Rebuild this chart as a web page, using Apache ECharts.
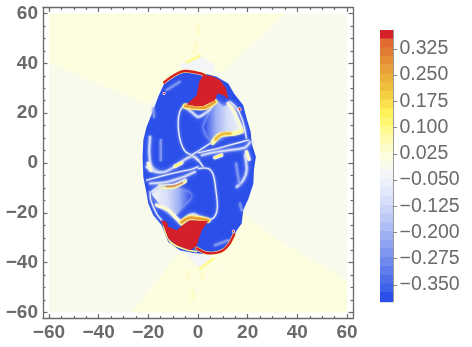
<!DOCTYPE html>
<html><head><meta charset="utf-8">
<style>html,body{margin:0;padding:0;background:#fff}#c{width:472px;height:347px}</style>
<script src="https://cdn.jsdelivr.net/npm/echarts@6/dist/echarts.min.js"></script>
</head><body><div id="c"></div>
<script>
// ---- tick labels ----
const majorTicks=[-60,-40,-20,0,20,40,60];
const minorTicks=[-60,-55,-50,-45,-35,-30,-25,-15,-10,-5,5,10,15,25,30,35,45,50,55];
const barTicks=[-0.35,-0.275,-0.2,-0.125,-0.05,0.025,0.1,0.175,0.25,0.325];
// ---- colour bar ----
const bandEdges=[-0.398,-0.369,-0.344,-0.319,-0.294,-0.269,-0.244,-0.219,-0.194,-0.169,-0.144,-0.119,-0.094,-0.069,-0.044,-0.019,0.006,0.031,0.056,0.081,0.106,0.131,0.156,0.181,0.206,0.231,0.256,0.281,0.306,0.331,0.356,0.379];
const bandColors=['#2c4fea','#3f62ea','#4f6fea','#5f7cec','#6f8aee','#7e96ef','#8ea3f1','#9eb0f3','#aebdf5','#bcc9f7','#cad4f8','#d6def9','#e2e8fb','#ecf0fb','#f3f5f6','#f8faec','#fdfde0','#fdfcc8','#fefbae','#fffa90','#fff770','#fff25a','#f9e04c','#f4cf42','#efbe3c','#ecaf3c','#e9a03a','#e68e36','#e37c33','#e06a30','#d42028'];
// ---- regions (x, y in data units) ----
const bgRect=[[-60,60],[60,60],[60,-60],[-60,-60]];
const bgTop=[[-60,60],[35,60],[10,36.6],[-5,37],[-14,31],[-20,23.5],[-38,31],[-60,40]];
const bgBottom=[[-26.7,-60],[60,-60],[60,-47],[32.2,-31],[18,-20],[10,-32],[-7.9,-36.3]];
const ghostTop=[[-7.5,39.6],[0.8,43.3],[6.9,39.3],[6.2,36.6],[-5.9,36.9]];
const ghostBottom=[[-5.9,-35.7],[6.2,-36.4],[4.9,-38.4],[0.8,-42.4],[-3.2,-38.4]];
const ghostStreakTop=[[-4.5,40.4],[0.8,43]];
const ghostStreakBottom=[[0.8,-42.4],[6.2,-38.4]];
const ghostSpots=[[[-1.5,44],[-0.8,48]],[[-0.1,55.5],[0,52]],[[-4.1,-43.5],[-4.1,-46.5]],[[1.8,-43.5],[1.8,-46.5]],[[-2.1,-51.5],[-2.1,-55]]];
const ghostRings=[
 [[2.8,50],[8.9,48.7],[10.9,45.3],[9.6,41.3],[6.2,40]],
 [[-7.9,55.4],[-5.9,58.7],[-0.5,59.1],[6.2,58],[4.2,53.4],[2.2,50.7]],
 [[-8.3,52],[-4.5,50],[-8.6,43.3]],
 [[-10.6,-44.4],[-7.2,-39.7],[-3.2,-43],[-1.9,-46.4],[-5.9,-49.1],[-9.9,-47.7],[-10.6,-44.4]],
 [[4.9,-41.7],[9.6,-41],[9.6,-45.7],[4.9,-48]],
 [[-3.2,-51.1],[4.2,-51.1],[7.5,-54.4],[4.2,-58.4],[-4.5,-57.8]]];
const blob=[[-5.9,37.3],[1.5,36.2],[7.5,34.6],[12.2,31.9],[14.5,27.9],[18.2,23.2],[19.6,17.9],[21.2,12.5],[21.6,7.8],[23.3,2.5],[22.5,-2.9],[22.3,-8.2],[20.3,-14.3],[18.2,-18.9],[17.6,-24.3],[15.6,-27],[12.9,-33],[8.8,-36],[3.5,-36.6],[-1.9,-36.1],[-7.3,-35],[-12,-31.7],[-14.6,-25],[-18,-21],[-20,-16.3],[-20.7,-12.2],[-22,-5.6],[-22.3,2.5],[-22,9.2],[-20.7,14.5],[-18,21.2],[-16,26.6],[-13.3,32.6],[-10,35.3]];
const redTop=[[2.1,35.3],[5.5,34.9],[8.9,33.3],[11.3,29.9],[12.2,25.5],[10.2,27.2],[7.8,27.9],[6.8,25.2],[2.1,22.9],[-1.2,22.9],[-4.6,23.5],[-0.5,27.2],[0.5,32.6]];
const redBottom=[[-15,-23],[-12.6,-23.6],[-12,-25.6],[-8.6,-27],[-6.2,-25],[-3.2,-23],[4.1,-23.4],[1.5,-27],[-0.6,-33.3],[-3.2,-35],[-8.6,-33],[-12,-30.3],[-13.7,-25.6]];
const arcTop=[[-13.6,32.4],[-9.3,35.4],[-5.3,36.9],[0.8,36],[2.8,35.2]];
const arcBottom=[[-0.6,-34.2],[3.5,-36.1],[8.8,-35.7],[12.2,-33],[14.6,-28.6]];
const arcBottomLeft=[[-14,-24],[-12.9,-28.3],[-10.9,-31.9],[-5.9,-34.4],[-0.6,-35.6]];
const lobeTop=[[7.8,24.6],[10.2,22.6],[13.5,23.9],[16.2,17.2],[18.2,12.8],[12.9,12.5],[6.2,8.5],[2.5,13.9],[4,18.5]];
const lobeBottom=[[-18.7,-11.6],[-15.3,-9.6],[-9.3,-9.6],[-2.9,-12.9],[-6.3,-17.6],[-9.3,-20.9],[-13.3,-18.3],[-16.7,-14.9]];
const softRidges=[
 [[-5.2,22.5],[-2.6,20.5],[0.1,18.5],[2.8,19.9],[6.2,22.5]],
 [[4.1,-22.7],[0.8,-21.6],[-1.9,-20.5],[-4.6,-21.6],[-6.6,-24.3]],
 [[-19.3,10.5],[-19.6,3.8],[-18.7,-1.5],[-16,-3.5]],
 [[-20.7,-1.5],[-17.3,-3.5],[-13.3,-3.5],[-9.3,-1.5],[-4.6,1.8],[-1.9,2.7],[0.1,1.1]],
 [[1.5,3.1],[5.5,4.1],[12.9,5.2],[18.9,6.2],[21,8.5]],
 [[18.9,3.2],[19.6,-2.9],[18.2,-6.9],[15.6,-9.6]],
 [[-19.3,-8.2],[-12.6,-7.6],[-5.9,-5.6],[-1.2,-3.5]]];
const thinRidges=[
 [[-3.2,23],[-6.2,22.4],[-7.7,19.2],[-7.9,13.8],[-7,8.5],[-5.2,4.7],[-2.6,3.1],[0.1,1.1],[2,-1.5]],
 [[-2.6,3.1],[0.8,5.2],[4.8,7.8]],
 [[0.1,-2.2],[4.1,-2.2],[6.2,-4.9],[7.2,-10.9],[7.8,-17.6],[6.8,-21.4],[4.1,-23.2]],
 [[0.1,4.1],[6.2,5.4],[12.9,7.2],[20.3,9.2]],
 [[-20.7,-6.9],[-13.3,-4.9],[-7.3,-3.5],[-2.6,-2.5],[0.1,-1.5]],
 [[12.9,24.6],[15.6,22],[17.9,17.2],[19.5,10]],
 [[-19.3,-11.6],[-19,-14.9],[-16.7,-20.3],[-14.6,-23]],
 [[-18.7,-11.6],[-15.3,-9.2],[-9.3,-8.4],[-5.3,-6.6]]];
const paleStreaks=[
 [[-15,9.2],[-15,1.1]],[[15.3,-0.2],[16.6,-8.2]],[[16.9,-16.3],[17.6,-19]],
 [[-12.6,29.3],[-7.3,32.6]],[[6.8,-33],[12.2,-31]],[[-18,21.9],[-17.7,18.5]]];
const creamLines=[
 [[12.2,23.9],[14.2,21.2],[16.9,15.2],[18.2,12.9]],
 [[-16.7,-16.9],[-12,-18.9],[-8.6,-22.3],[-6.6,-24.3]],
 [[-20,-0.2],[-19,-2.9]],[[19.5,4.5],[20.5,1.5]]];
const yellowUnderRedTop=[[-5.2,22.9],[-1.2,22.3],[2.8,22.3],[6.8,24.6]];
const yellowOverRedBottom=[[-6.6,-23.8],[-3.2,-22],[4.1,-23]];
const goldTop=[[5.9,8.2],[8.8,11.2],[14.2,11.8],[17.6,12.8]];
const goldTopCore=[[7,9.5],[9.5,11.5],[13,11.8]];
const goldBottom=[[-15.3,-9.3],[-9.9,-9.3],[-5.3,-7.2]];
const goldBottomCore=[[-12.6,-9.2],[-9.9,-9.1],[-6.6,-7.8]];
const yellowSpots=[[[6.8,2.2],[9.5,3.2]],[[-9.3,-1.3],[-6.6,0]]];
const redDots=[[[-13.7,27.9],[-13.6,28]],[[14.2,-27.4],[14.3,-27.3]],[[16.6,21.9],[17,21.4]]];

// ---- colour scale ----
function colorOf(v){
  for(let i=0;i<bandColors.length;i++){ if(v<bandEdges[i+1]) return bandColors[i]; }
  return bandColors[bandColors.length-1];
}
// ---- draw list, built from the arrays above ----
const shapes=[];
const area=(pts,v,extra)=>shapes.push(Object.assign({kind:'area',pts,v},extra||{}));
const line=(pts,v,w,extra)=>shapes.push(Object.assign({kind:'line',pts,v,w},extra||{}));
area(bgRect,0.0); area(bgTop,0.01); area(bgBottom,0.01);
area(ghostTop,-0.03); area(ghostBottom,-0.03);
ghostRings.forEach(r=>line(r,-0.005,1,{op:0.7}));
ghostSpots.forEach(s=>line(s,0.035,3.5,{op:.7,blur:2}));
line(ghostStreakTop,0.09,2.2,{blur:1}); line(ghostStreakBottom,0.09,2.2,{blur:1});
area(blob,-0.38);
softRidges.forEach(r=>{line(r,-0.22,4,{op:.5,blur:4});line(r,-0.08,1.6,{op:.85,blur:2});});
paleStreaks.forEach(r=>{line(r,-0.24,2.5,{op:.7,blur:3});});
area(lobeTop,-0.03,{grad:[1,0,0,0],blur:5});
area(lobeBottom,-0.03,{grad:[0,0,1,0],blur:5});
creamLines.forEach(r=>{line(r,-0.03,3.5,{blur:3});line(r,0.045,1.8,{blur:1});});
line(goldTop,0.07,4.5,{blur:2}); line(goldTopCore,0.21,2.5,{blur:1});
line(goldBottom,0.08,4.5,{blur:2}); line(goldBottomCore,0.3,2.5,{blur:1});
yellowSpots.forEach(r=>{line(r,-0.03,3.5,{blur:2});line(r,0.13,2);});
thinRidges.forEach(r=>{line(r,-0.2,2.5,{op:.5,blur:3});line(r,-0.03,1.1);});
line(yellowUnderRedTop,0.1,5,{blur:2}); line(yellowUnderRedTop,0.27,2.5,{blur:1});
line(yellowOverRedBottom,0.1,5,{blur:2}); line(yellowOverRedBottom,0.27,2.5,{blur:1});
line(arcTop,0.1,3.4); line(arcBottom,0.1,3.4); line(arcBottomLeft,0.1,1.8);
area(redTop,0.37); area(redBottom,0.37);
line(arcTop,0.37,2.4); line(arcBottom,0.37,2.4);
redDots.forEach(d=>{line(d,-0.03,3);line(d,0.37,1.6);});

function renderShape(params,api){
  const s=shapes[params.dataIndex];
  const points=s.pts.map(p=>api.coord(p));
  if(s.kind==='area'){
    let fill=colorOf(s.v);
    if(s.grad){
      fill={type:'linear',x:s.grad[0],y:s.grad[1],x2:s.grad[2],y2:s.grad[3],colorStops:[
        {offset:0,color:colorOf(-0.03)},{offset:.4,color:colorOf(-0.1)},{offset:.7,color:colorOf(-0.2)},{offset:1,color:colorOf(-0.38)}]};
    }
    return {type:'polygon',shape:{points,smooth:s.grad?0.3:0},style:{fill,stroke:null,shadowBlur:s.blur||0,shadowColor:s.blur?'#dfe6fb':'transparent'}};
  }
  return {type:'polyline',shape:{points,smooth:0.3},style:{fill:null,stroke:colorOf(s.v),lineWidth:s.w,opacity:s.op||1,lineCap:'round',lineJoin:'round',shadowBlur:s.blur||0,shadowColor:colorOf(s.v)}};
}
function renderBand(params,api){
  const i=params.dataIndex;
  const a=api.coord([0,bandEdges[i]]), b=api.coord([1,bandEdges[i+1]]);
  return {type:'rect',shape:{x:a[0],y:b[1],width:b[0]-a[0],height:a[1]-b[1]+0.5},style:{fill:bandColors[i]}};
}
const axisGray='#6a6a6a';
const fmt=v=>String(v).replace('-','\u2212');
const mainRange={min:-62.4,max:62.4};
function ax(pos,major,labelled){
  return Object.assign({type:'value',position:pos,scale:true,splitLine:{show:false},minorTick:{show:false},
    axisLine:{show:major,onZero:false,lineStyle:{color:axisGray,width:1.3}},
    axisTick:{show:true,inside:true,length:major?4.5:2.5,customValues:major?majorTicks:minorTicks,lineStyle:{color:axisGray,width:1.2}},
    axisLabel:labelled?{show:true,customValues:majorTicks,formatter:fmt,color:'#6a6a6a',fontFamily:'Liberation Sans',fontWeight:'bold',fontSize:19,margin:5,showMinLabel:true,showMaxLabel:true,hideOverlap:false}:{show:false}
  },mainRange);
}
const chart=echarts.init(document.getElementById('c'),null,{renderer:'canvas'});
chart.setOption({
  animation:false,backgroundColor:'#fff',
  grid:[{left:43,top:7.5,width:310,height:311,containLabel:false},{left:380,top:30,width:13,height:271.7}],
  xAxis:[ax('bottom',true,true),ax('bottom',false,false),ax('top',true,false),ax('top',false,false),
    {gridIndex:1,type:'value',min:0,max:1,show:false}],
  yAxis:[ax('left',true,true),ax('left',false,false),ax('right',true,false),ax('right',false,false),
    {gridIndex:1,type:'value',position:'right',min:bandEdges[0],max:bandEdges[bandEdges.length-1],splitLine:{show:false},
     axisLine:{show:true,onZero:false,lineStyle:{color:'#9a9a9a',width:1}},
     axisTick:{show:true,length:4,customValues:barTicks,lineStyle:{color:'#888',width:1}},
     axisLabel:{show:true,customValues:barTicks,formatter:v=>v.toFixed(3).replace('-','\u2212'),color:'#6a6a6a',fontFamily:'Liberation Sans',fontSize:19.5,margin:6.5,align:'left'}}],
  series:[
    {type:'custom',xAxisIndex:0,yAxisIndex:0,clip:true,data:shapes.map((s,i)=>[i]),renderItem:renderShape,silent:true},
    {type:'custom',xAxisIndex:4,yAxisIndex:4,data:bandColors.map((c,i)=>[i]),renderItem:renderBand,silent:true}
  ]
});
</script></body></html>
